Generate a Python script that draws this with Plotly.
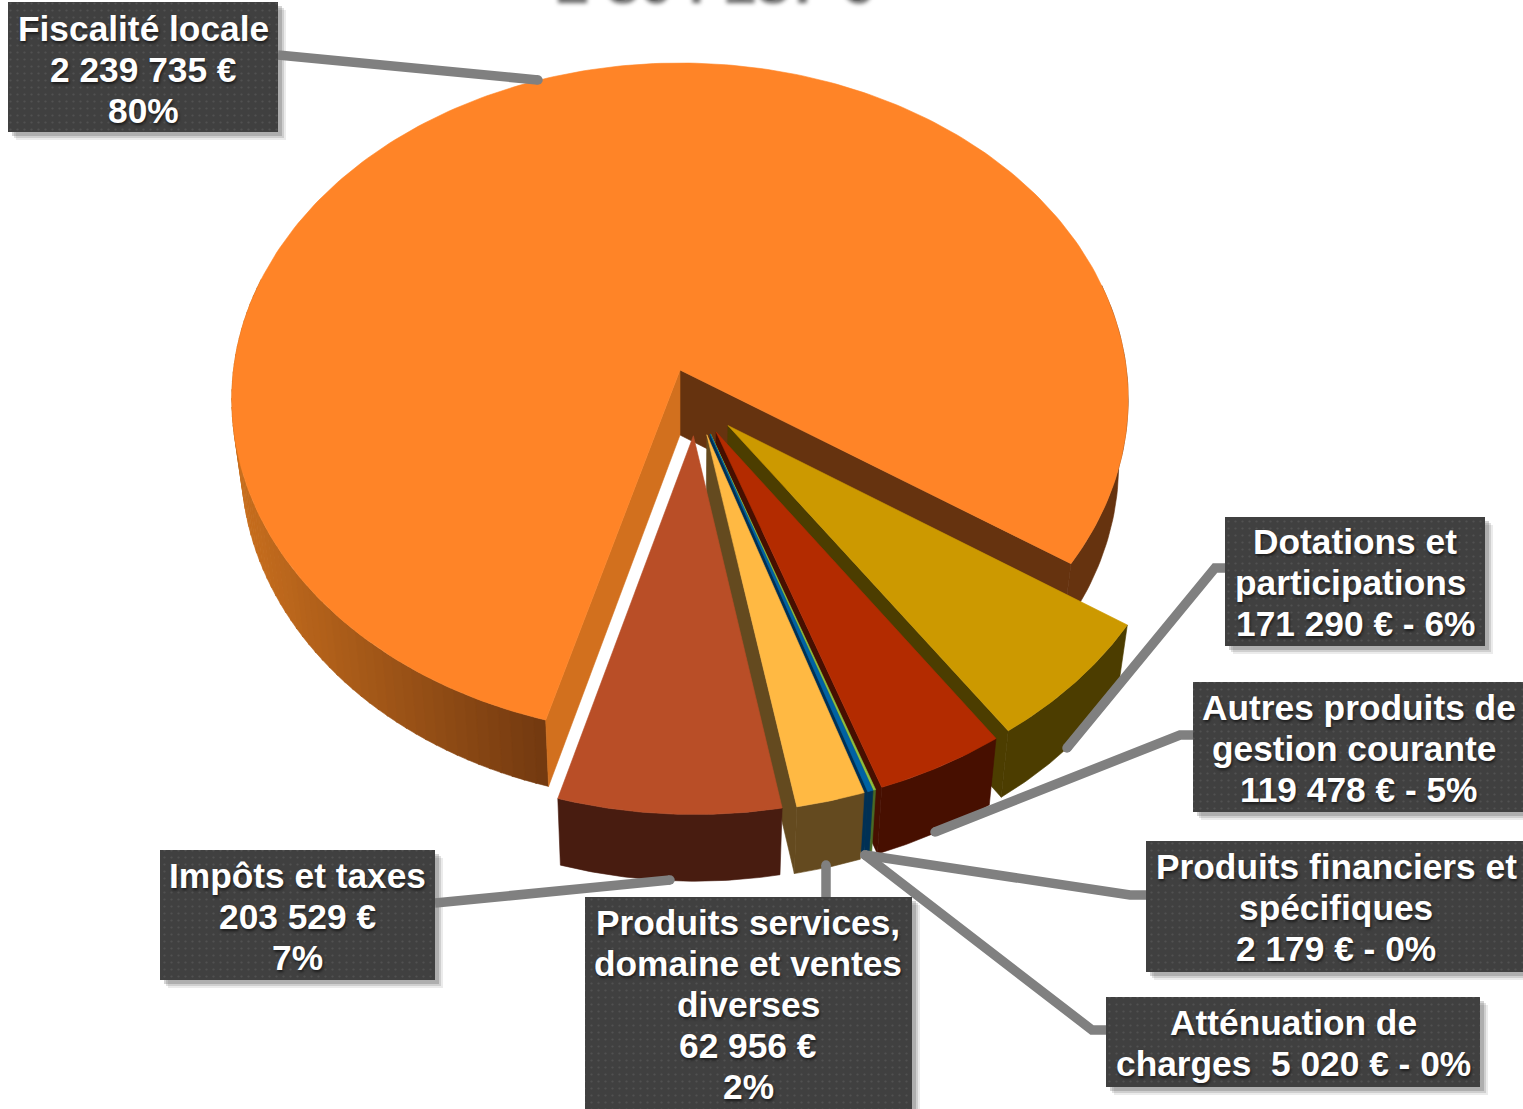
import math
import plotly.graph_objects as go

# ---- data ----
categories = ["Fiscalité locale", "Dotations et participations", "Autres produits de gestion courante",
              "Produits financiers et spécifiques", "Atténuation de charges",
              "Produits services, domaine et ventes diverses", "Impôts et taxes"]
values = [2239735, 171290, 119478, 2179, 5020, 62956, 203529]
total_text = "2 804 187 €"
label_lines = [
    ["Fiscalité locale", "2 239 735 €", "80%"],
    ["Dotations et", "participations\u00a0", "171 290 € - 6%"],
    ["Autres produits de", "gestion courante\u00a0", "119 478 € - 5%"],
    ["Produits financiers et", "spécifiques", "2 179 € - 0%"],
    ["Atténuation de", "charges  5 020 € - 0%"],
    ["Produits services,", "domaine et ventes", "diverses", "62 956 €", "2%"],
    ["Impôts et taxes", "203 529 €", "7%"],
]
top_colors = ["#FF8427", "#CC9900", "#B32B00", "#8FBF3F", "#0062A4", "#FFB943", "#B94E27"]
side_colors = ["#66330F", "#4C3D00", "#470F00", "#4A6A25", "#003055", "#644A1F", "#481C10"]
wall_colors = ["#66330F", "#4C3D00", "#470F00", "#4A6A25", "#003055", "#644A1F", "#481C10"]

# ---- layout constants ----
W, H = 1523, 1109
START_DEG = 196.0   # clockwise from the back of the pie
EXPLODE = 0.10
K = 0.087
TOP = dict(ax=680, ay=370, A=446.5, B=333.7)
BOT = dict(ax=680, ay=435, A=437, B=335)
boxes = [(8, 2, 278, 132), (1225, 517, 1485, 646), (1193, 682, 1523, 812), (1146, 841, 1523, 972),
         (1106, 997, 1480, 1087), (585, 897, 912, 1109), (160, 850, 435, 980)]
label_x = [143, 1355, 1358.5, 1336, 1293, 748, 297]
label_y0 = [28, 541, 707, 866, 1022, 922, 875]
LINE_H = 41
leaders = [
    ([278, 538], [55, 80]),
    ([1225, 1215, 1067], [568, 568, 748]),
    ([1193, 1180, 935], [735, 735, 832]),
    ([1146, 1130, 865], [895, 895, 855]),
    ([1106, 1092, 865], [1030, 1030, 855]),
    ([826, 826], [897, 865]),
    ([435, 670], [903, 880]),
]

fig = go.Figure()


def proj(u, v, p):
    w = 1 - K * v
    return p["ax"] + p["A"] * u / w, p["ay"] + p["B"] * v / w


def direction(deg):
    r = math.radians(deg)
    return math.sin(r), -math.cos(r)


def poly(pts, color):
    xs = [p[0] for p in pts] + [pts[0][0]]
    ys = [p[1] for p in pts] + [pts[0][1]]
    fig.add_trace(go.Scatter(x=xs, y=ys, mode="lines", fill="toself", fillcolor=color,
                             line=dict(color=color, width=0.6), hoverinfo="skip", showlegend=False))


def mix(c1, c2, t):
    a = [int(c1[i:i + 2], 16) for i in (1, 3, 5)]
    b = [int(c2[i:i + 2], 16) for i in (1, 3, 5)]
    return "#" + "".join(f"{round(x + (y - x) * t):02X}" for x, y in zip(a, b))


total = sum(values)
spans = [v / total * 360 for v in values]
starts = []
angle = START_DEG
for s in spans:
    starts.append(angle)
    angle += s
mids = [a + s / 2 for a, s in zip(starts, spans)]
o0 = direction(mids[0])
offsets = []
for m in mids:
    d = direction(m)
    offsets.append((EXPLODE * (d[0] - o0[0]), EXPLODE * (d[1] - o0[1])))


def rim_point(i, deg, p):
    d = direction(deg)
    return proj(d[0] + offsets[i][0], d[1] + offsets[i][1], p)


def apex(i, p):
    return proj(offsets[i][0], offsets[i][1], p)


def arc(i, a0, a1, p, step=1.0):
    n = max(2, int(abs(a1 - a0) / step) + 1)
    return [rim_point(i, a0 + (a1 - a0) * j / (n - 1), p) for j in range(n)]


# orange slice: rim shaded from left to right on the left side, flat on the right
end0 = starts[0] + spans[0]
a = starts[0]
while a < 285:
    x_mid = rim_point(0, a + 0.75, BOT)[0]
    t = min(1.0, max(0.0, (x_mid - 240) / 305))
    poly(arc(0, a, a + 1.7, TOP, 0.5) + arc(0, a + 1.7, a, BOT, 0.5), mix("#C96F1E", "#733A10", t))
    a += 1.5
poly(arc(0, 75, end0 - 360, TOP) + arc(0, end0 - 360, 75, BOT), side_colors[0])
poly([apex(0, TOP), rim_point(0, end0, TOP), rim_point(0, end0, BOT), apex(0, BOT)], wall_colors[0])
poly([apex(0, TOP), rim_point(0, starts[0], TOP), rim_point(0, starts[0], BOT), apex(0, BOT)], "#D2701E")
poly([apex(0, TOP)] + arc(0, starts[0], end0, TOP), top_colors[0])

# exploded slices: back to front
for i in range(1, len(values)):
    a0, a1 = starts[i], starts[i] + spans[i]
    if i != len(values) - 1:
        poly([apex(i, TOP), rim_point(i, a1, TOP), rim_point(i, a1, BOT), apex(i, BOT)], wall_colors[i])
    poly(arc(i, a0, a1, TOP, 0.5) + arc(i, a1, a0, BOT, 0.5), side_colors[i])
    poly([apex(i, TOP)] + arc(i, a0, a1, TOP, 0.5), top_colors[i])

# leader lines
for xs, ys in leaders:
    fig.add_trace(go.Scatter(x=xs, y=ys, mode="lines+markers",
                             line=dict(color="#808080", width=9.5),
                             marker=dict(color="#808080", size=[0] * (len(xs) - 1) + [9.5],
                                         line=dict(width=0, color="#808080"), opacity=1),
                             hoverinfo="skip", showlegend=False))

# label boxes
for (x0, y0, x1, y1) in boxes:
    for off, alpha in ((8, 0.10), (6, 0.16), (4, 0.22)):
        fig.add_shape(type="rect", x0=x0 + off, x1=x1 + off, y0=y0 + off, y1=y1 + off,
                      fillcolor=f"rgba(60,60,60,{alpha})", line_width=0, layer="between")
for (x0, y0, x1, y1) in boxes:
    fig.add_trace(go.Scatter(x=[x0, x1, x1, x0, x0], y=[y0, y0, y1, y1, y0], mode="lines",
                             fill="toself", fillcolor="#404040",
                             fillpattern=dict(shape=".", bgcolor="#404040", fgcolor="#626262",
                                              size=7, solidity=0.08),
                             line=dict(width=0), hoverinfo="skip", showlegend=False))

annotations = []
for lines, lx, ly in zip(label_lines, label_x, label_y0):
    for j, line in enumerate(lines):
        annotations.append(dict(x=lx, y=ly + j * LINE_H, text=line, xref="x", yref="y",
                                showarrow=False, xanchor="center", yanchor="middle",
                                font=dict(family="Liberation Sans", size=35.3, color="#FFFFFF", weight=700,
                                          shadow="1px 2px 3px rgba(0,0,0,0.6)")))
annotations.append(dict(x=712, y=4, text=total_text, xref="x", yref="y", showarrow=False,
                        xanchor="center", yanchor="bottom", yshift=-11,
                        font=dict(family="Liberation Sans", size=60, color="#595959", weight=700,
                                  shadow="2px 3px 4px rgba(0,0,0,0.6)")))

fig.update_layout(
    width=W, height=H, margin=dict(l=0, r=0, t=0, b=0),
    paper_bgcolor="#FFFFFF", plot_bgcolor="#FFFFFF", showlegend=False,
    xaxis=dict(range=[0, W], visible=False, fixedrange=True),
    yaxis=dict(range=[H, 0], visible=False, fixedrange=True),
    annotations=annotations,
)
fig.write_html("out.html", post_script="document.body.style.margin='0';",
               config=dict(displayModeBar=False))
